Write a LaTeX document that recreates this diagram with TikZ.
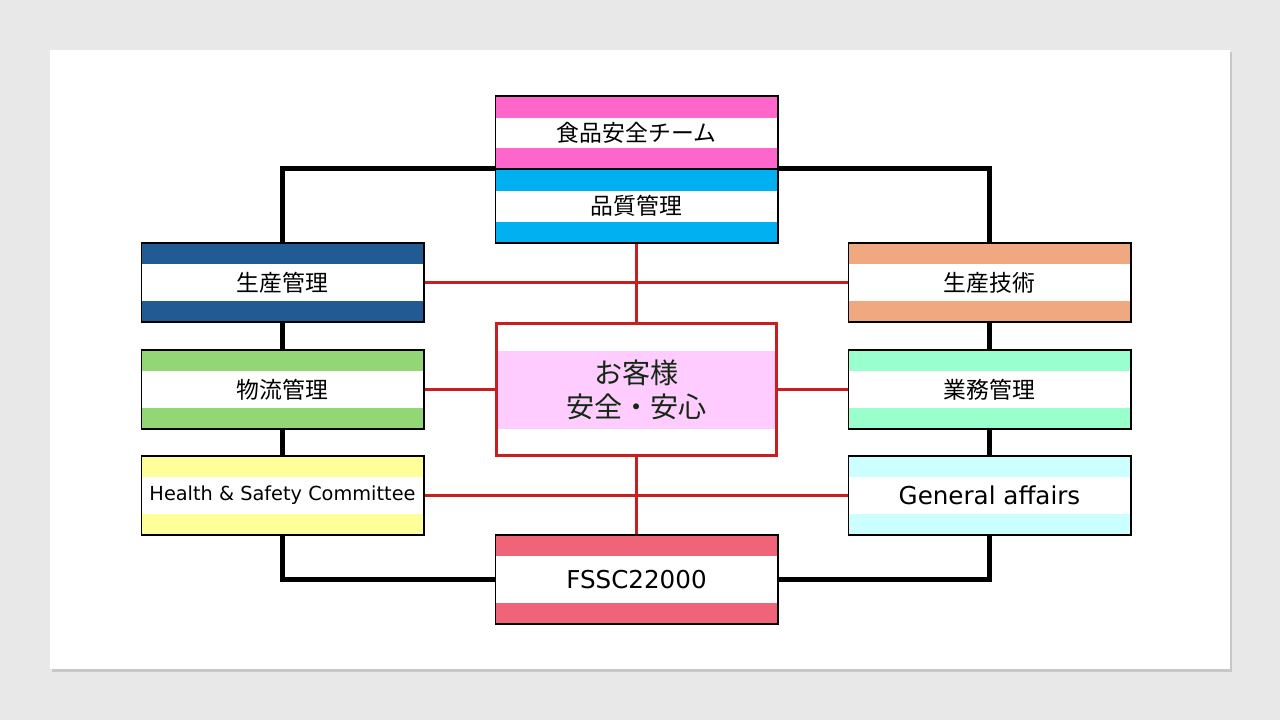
\documentclass[tikz,border=0pt]{standalone}
\usepackage{fontspec}
\setmainfont{Noto Sans CJK JP}
\newfontfamily\latinfont{DejaVu Sans}
\definecolor{slidegray}{RGB}{232,232,232}
\definecolor{teampink}{RGB}{255,102,204}
\definecolor{qualityblue}{RGB}{0,176,240}
\definecolor{prodnavy}{RGB}{34,90,148}
\definecolor{logigreen}{RGB}{147,214,117}
\definecolor{healthyellow}{RGB}{255,255,153}
\definecolor{techsalmon}{RGB}{240,168,128}
\definecolor{opsmint}{RGB}{153,255,204}
\definecolor{genaqua}{RGB}{204,255,255}
\definecolor{fsscrose}{RGB}{240,100,122}
\definecolor{custpink}{RGB}{255,204,255}
\definecolor{redlink}{RGB}{200,30,30}
\definecolor{custtext}{RGB}{20,40,20}

\tikzset{
  dept/.style 2 args={draw=black, line width=0.6pt, fill=white, inner sep=0pt,
    minimum width=5.66cm, minimum height=1.58cm, font=\fontsize{13}{15}\selectfont,
    path picture={
      \fill[#1] (path picture bounding box.north west) rectangle ([yshift=-#2]path picture bounding box.north east);
      \fill[#1] (path picture bounding box.south west) rectangle ([yshift=#2]path picture bounding box.south east);
    }},
  blackline/.style={line width=2.6pt, black},
  redline/.style={line width=1.8pt, redlink}
}

\begin{document}
\begin{tikzpicture}[x=0.02cm, y=-0.02cm]
  \useasboundingbox (0,0) rectangle (1280,720);
  % slide
  \fill[slidegray] (0,0) rectangle (1280,720);
  \fill[black!22] (52,52) rectangle (1232,672);
  \fill[white] (50,50) rectangle (1230,669);

  % centre column
  \node[dept={teampink}{0.43cm}, minimum height=1.46cm] (team) at (636.5,132.5) {食品安全チーム};
  \node[dept={qualityblue}{0.43cm}, minimum height=1.48cm] (quality) at (636.5,206) {品質管理};
  \node[draw=redlink, line width=2.2pt, fill=white, inner sep=0pt, minimum width=5.6cm, minimum height=2.64cm,
        align=center, text=custtext, font=\fontsize{16}{19.5}\selectfont,
        path picture={\fill[custpink] ([yshift=-0.54cm]path picture bounding box.north west) rectangle ([yshift=0.52cm]path picture bounding box.south east);}]
        (customer) at (636.5,389.5) {お客様\\安全・安心};
  \node[dept={fsscrose}{0.42cm}, minimum height=1.78cm, font=\latinfont\fontsize{14}{16}\selectfont] (fssc) at (636.5,579.5) {FSSC22000};

  % left column
  \node[dept={prodnavy}{0.42cm}] (prodmgmt) at (282.5,282.5) {生産管理};
  \node[dept={logigreen}{0.42cm}] (logistics) at (282.5,389.5) {物流管理};
  \node[dept={healthyellow}{0.42cm}, font=\latinfont\fontsize{11}{13}\selectfont] (health) at (282.5,495.5) {Health \& Safety Committee};

  % right column
  \node[dept={techsalmon}{0.42cm}] (prodtech) at (989.5,282.5) {生産技術};
  \node[dept={opsmint}{0.42cm}] (ops) at (989.5,389.5) {業務管理};
  \node[dept={genaqua}{0.42cm}, font=\latinfont\fontsize{14}{16}\selectfont] (general) at (989.5,495.5) {General affairs};

  % black frame
  \draw[blackline] (quality.north west) -| (prodmgmt.north);
  \draw[blackline] (quality.north east) -| (prodtech.north);
  \draw[blackline] (prodmgmt) -- (logistics);
  \draw[blackline] (logistics) -- (health);
  \draw[blackline] (prodtech) -- (ops);
  \draw[blackline] (ops) -- (general);
  \draw[blackline] (health.south) |- (fssc.west);
  \draw[blackline] (general.south) |- (fssc.east);

  % red links
  \draw[redline] (quality) -- (customer);
  \draw[redline] (customer) -- (fssc);
  \draw[redline] (prodmgmt) -- (prodtech);
  \draw[redline] (logistics) -- (customer);
  \draw[redline] (customer) -- (ops);
  \draw[redline] (health) -- (general);
\end{tikzpicture}
\end{document}
